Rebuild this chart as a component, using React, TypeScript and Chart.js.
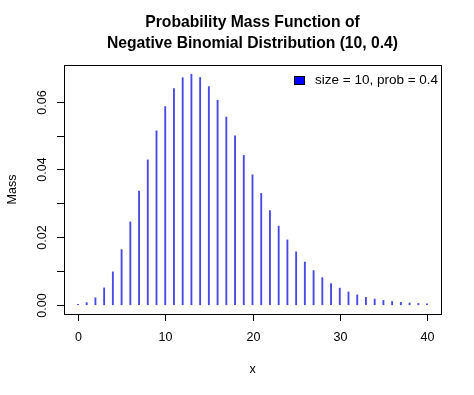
import React, { useEffect, useRef } from "react";
import { Chart, registerables } from "chart.js";

Chart.register(...registerables);

const xValues: number[] = [
  0, 1, 2, 3, 4, 5, 6, 7, 8, 9, 10, 11, 12, 13, 14, 15, 16, 17, 18, 19, 20,
  21, 22, 23, 24, 25, 26, 27, 28, 29, 30, 31, 32, 33, 34, 35, 36, 37, 38, 39, 40,
];
const massValues: number[] = [
  0.000105, 0.000629, 0.002076, 0.004983, 0.009717, 0.016324, 0.024486,
  0.033581, 0.042816, 0.051379, 0.058572, 0.063897, 0.067092, 0.068124,
  0.067151, 0.064465, 0.060436, 0.055459, 0.049913, 0.044134, 0.038396,
  0.032911, 0.027825, 0.023228, 0.019163, 0.015637, 0.01263, 0.010104,
  0.008011, 0.006298, 0.004913, 0.003803, 0.002924, 0.002233, 0.001694,
  0.001278, 0.000959, 0.000715, 0.000531, 0.000392, 0.000288,
];
const xTicks: number[] = [0, 10, 20, 30, 40];
const yTicks: number[] = [0, 0.01, 0.02, 0.03, 0.04, 0.05, 0.06];
const yTickLabels: string[] = ["0.00", "", "0.02", "", "0.04", "", "0.06"];
const titleLines: string[] = [
  "Probability Mass Function of",
  "Negative Binomial Distribution (10, 0.4)",
];
const legendLabel = "size = 10, prob = 0.4";

const FONT = "Liberation Sans, Arial, Helvetica, sans-serif";

const rPlot = {
  id: "rPlot",
  afterDraw(chart: any) {
    const { ctx, chartArea: a, scales } = chart;
    const xs = scales.x;
    const ys = scales.y;
    ctx.save();
    ctx.strokeStyle = "#000";
    ctx.lineWidth = 1;
    ctx.strokeRect(Math.round(a.left) + 0.5, Math.round(a.top) + 0.5, Math.round(a.right - a.left), Math.round(a.bottom - a.top));

    ctx.fillStyle = "#000";
    ctx.font = `12.5px ${FONT}`;
    // x ticks
    ctx.textAlign = "center";
    ctx.textBaseline = "middle";
    xTicks.forEach((t) => {
      const px = Math.round(xs.getPixelForValue(t)) + 0.5;
      ctx.beginPath();
      ctx.moveTo(px, a.bottom);
      ctx.lineTo(px, a.bottom + 7);
      ctx.stroke();
      ctx.fillText(String(t), px, a.bottom + 24);
    });
    // y ticks
    yTicks.forEach((t, i) => {
      const py = Math.round(ys.getPixelForValue(t)) + 0.5;
      ctx.beginPath();
      ctx.moveTo(a.left, py);
      ctx.lineTo(a.left - 7, py);
      ctx.stroke();
      if (yTickLabels[i]) {
        ctx.save();
        ctx.translate(a.left - 21, py);
        ctx.rotate(-Math.PI / 2);
        ctx.fillText(yTickLabels[i], 0, 0);
        ctx.restore();
      }
    });
    // axis titles
    const cx = (a.left + a.right) / 2;
    const cy = (a.top + a.bottom) / 2;
    ctx.fillText("x", cx, a.bottom + 56);
    ctx.save();
    ctx.translate(13, cy);
    ctx.rotate(-Math.PI / 2);
    ctx.fillText("Mass", 0, 0);
    ctx.restore();

    // title
    ctx.font = `bold 15.7px ${FONT}`;
    ctx.fillText(titleLines[0], cx, 23);
    ctx.fillText(titleLines[1], cx, 44);

    // legend
    ctx.font = `13.5px ${FONT}`;
    ctx.textAlign = "left";
    ctx.fillStyle = "#0000ff";
    ctx.fillRect(294, 76, 10, 8);
    ctx.strokeStyle = "#000";
    ctx.strokeRect(294.5, 76.5, 10, 8);
    ctx.fillStyle = "#000";
    ctx.fillText(legendLabel, 315, 80);
    ctx.restore();
  },
};

export default function App() {
  const ref = useRef<HTMLCanvasElement | null>(null);
  useEffect(() => {
    document.body.style.margin = "0";
    const canvas = ref.current;
    if (!canvas) return;
    const chart = new Chart(canvas, {
      type: "bar",
      data: {
        datasets: [
          {
            label: legendLabel,
            data: xValues.map((x, i) => ({ x, y: massValues[i] })),
            backgroundColor: "#4848e4",
            borderWidth: 0,
            barThickness: 1.2,
          },
        ],
      },
      options: {
        responsive: false,
        animation: false,
        layout: { padding: { left: 64, right: 33, top: 65, bottom: 81 } },
        plugins: { legend: { display: false }, title: { display: false }, tooltip: { enabled: false } },
        scales: {
          x: { type: "linear", min: -1.6, max: 41.6, display: false, offset: false },
          y: { type: "linear", min: -0.002725, max: 0.07085, display: false },
        },
      },
      plugins: [rPlot],
    });
    return () => chart.destroy();
  }, []);
  return (
    <div style={{ width: 474, height: 395, background: "#fff" }}>
      <canvas ref={ref} width={474} height={395} style={{ display: "block" }} />
    </div>
  );
}
